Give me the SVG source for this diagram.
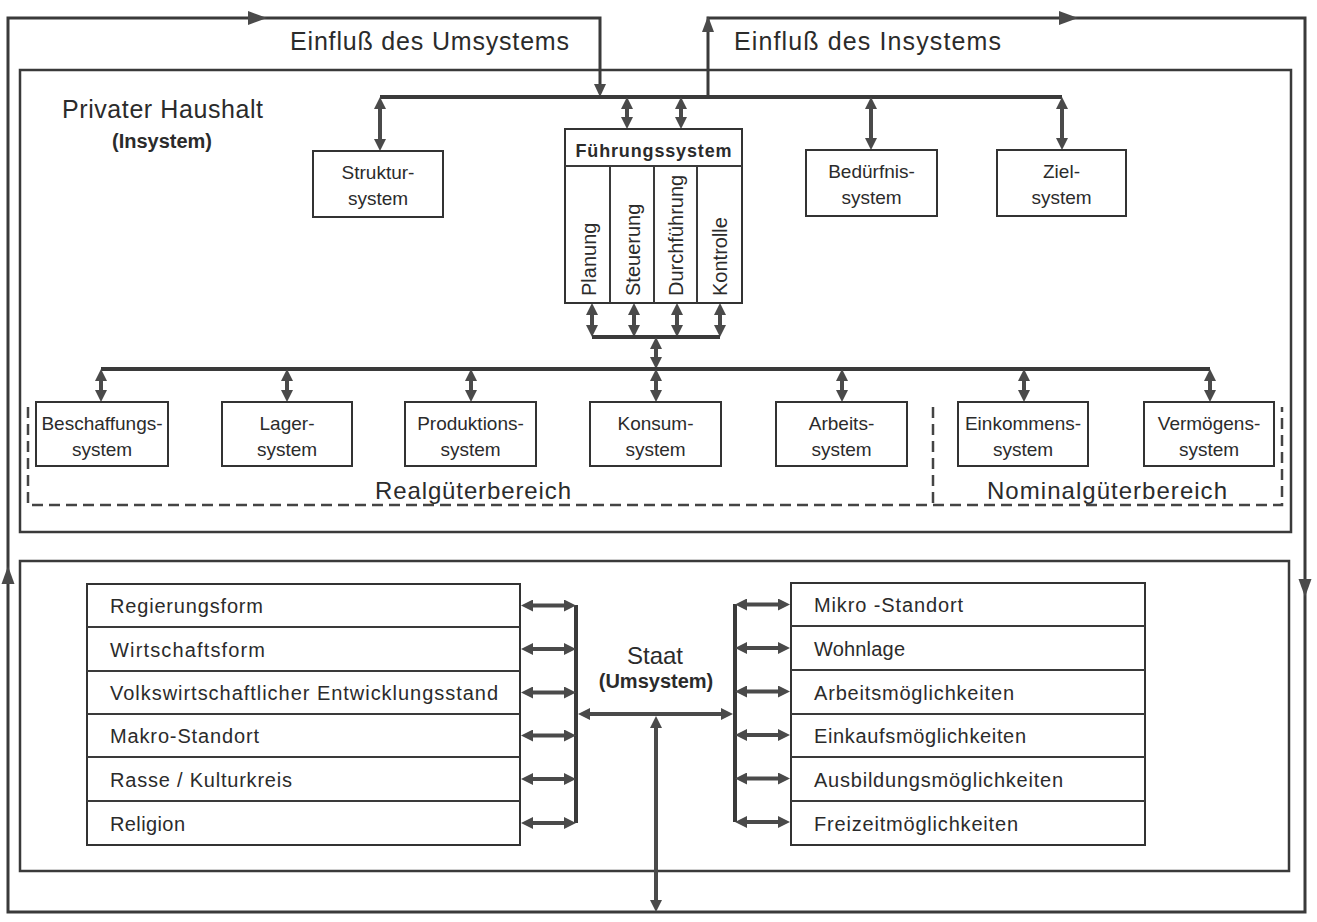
<svg xmlns="http://www.w3.org/2000/svg" width="1317" height="922" viewBox="0 0 1317 922">
<defs>
<style>
.ln{fill:none;stroke:#3a3a3a;stroke-width:3}
.bus{fill:none;stroke:#3a3a3a;stroke-width:4}
.ar{fill:none;stroke:#4a4a4a;stroke-width:4;marker-start:url(#ah);marker-end:url(#ah)}
.box{fill:#fff;stroke:#333;stroke-width:2}
.frame{fill:none;stroke:#3a3a3a;stroke-width:2.5}
.dash{fill:none;stroke:#444;stroke-width:2.5;stroke-dasharray:11 6}
.ah{fill:#4a4a4a}
text{font-family:"Liberation Sans",Arial,sans-serif;fill:#2b2b2b}
.lbl{font-size:19px;text-anchor:middle}
.big{font-size:25px}
.mid{font-size:24px;text-anchor:middle}
.sub{font-size:20px;font-weight:bold;text-anchor:middle}
.list{font-size:20px}
.vt{font-size:20px}
.hd{font-size:18px;font-weight:bold;text-anchor:middle}
</style>
<marker id="ah" viewBox="0 0 12 12" refX="4" refY="6" markerWidth="12" markerHeight="12" markerUnits="userSpaceOnUse" orient="auto-start-reverse"><path d="M0,0 L12,6 L0,12 z" fill="#4a4a4a"/></marker>
</defs>
<rect width="1317" height="922" fill="#fff"/>

<!-- containers -->
<g id="privater-haushalt">
<rect class="frame" x="20" y="70" width="1271" height="462"/>
<text class="big" x="62" y="118" textLength="201">Privater Haushalt</text>
<text class="sub" x="162" y="148">(Insystem)</text>
</g>
<g id="staat">
<rect class="frame" x="20" y="561" width="1269" height="310"/>
<text class="mid" x="655" y="664">Staat</text>
<text class="sub" x="656" y="688">(Umsystem)</text>
</g>

<g id="bereiche">
<path class="dash" d="M28,407 V505 H1282 V407 M933,407 V505"/>
<text class="mid" x="473" y="499" textLength="196">Realgüterbereich</text>
<text class="mid" x="1107" y="499" textLength="240">Nominalgüterbereich</text>
</g>

<!-- connectors -->
<g id="connectors">
<path class="ln" d="M708,97 V18 H1305 V912 H8 V18 H600 V87"/>
<path class="ah" d="M594,84 L600,97 L606,84 z"/>
<path class="ah" d="M702,32 L708,16 L714,32 z"/>
<path class="ah" d="M248,11 L267,18 L248,25 z"/>
<path class="ah" d="M1059,11 L1078,18 L1059,25 z"/>
<path class="ah" d="M1.5,584 L8,566 L14.5,584 z"/>
<path class="ah" d="M1298.5,579 L1305,597 L1311.5,579 z"/>
<!-- top bus -->
<path class="bus" d="M380,97 H1062"/>
<line class="ar" x1="380" y1="105" x2="380" y2="143"/>
<line class="ar" x1="627" y1="105" x2="627" y2="121"/>
<line class="ar" x1="681" y1="105" x2="681" y2="121"/>
<line class="ar" x1="871" y1="105" x2="871" y2="142"/>
<line class="ar" x1="1062" y1="105" x2="1062" y2="142"/>
<!-- under Führungssystem -->
<line class="ar" x1="592" y1="311" x2="592" y2="329"/>
<line class="ar" x1="634" y1="311" x2="634" y2="329"/>
<line class="ar" x1="677" y1="311" x2="677" y2="329"/>
<line class="ar" x1="720" y1="311" x2="720" y2="329"/>
<path class="bus" d="M592,337 H720"/>
<line class="ar" x1="656" y1="345" x2="656" y2="361"/>
<!-- main bus -->
<path class="bus" d="M101,369 H1210"/>
<line class="ar" x1="101" y1="377" x2="101" y2="394"/>
<line class="ar" x1="287" y1="377" x2="287" y2="394"/>
<line class="ar" x1="471" y1="377" x2="471" y2="394"/>
<line class="ar" x1="656" y1="377" x2="656" y2="394"/>
<line class="ar" x1="842" y1="377" x2="842" y2="394"/>
<line class="ar" x1="1024" y1="377" x2="1024" y2="394"/>
<line class="ar" x1="1210" y1="377" x2="1210" y2="394"/>
<!-- Staat -->
<path class="bus" d="M576,605 V823 M735,604 V822"/>
<line class="ar" x1="529" y1="605.5" x2="568" y2="605.5"/>
<line class="ar" x1="529" y1="649" x2="568" y2="649"/>
<line class="ar" x1="529" y1="692.5" x2="568" y2="692.5"/>
<line class="ar" x1="529" y1="735.5" x2="568" y2="735.5"/>
<line class="ar" x1="529" y1="779" x2="568" y2="779"/>
<line class="ar" x1="529" y1="823" x2="568" y2="823"/>
<line class="ar" x1="743" y1="604.5" x2="782" y2="604.5"/>
<line class="ar" x1="743" y1="648" x2="782" y2="648"/>
<line class="ar" x1="743" y1="691.5" x2="782" y2="691.5"/>
<line class="ar" x1="743" y1="735" x2="782" y2="735"/>
<line class="ar" x1="743" y1="778.5" x2="782" y2="778.5"/>
<line class="ar" x1="743" y1="822" x2="782" y2="822"/>
<line class="ar" x1="586" y1="714" x2="725" y2="714"/>
<line class="ar" x1="656" y1="724" x2="656" y2="904"/>
</g>

<text class="big" x="290" y="50" textLength="279">Einfluß des Umsystems</text>
<text class="big" x="734" y="50" textLength="267">Einfluß des Insystems</text>

<!-- upper nodes -->
<g id="struktursystem">
<rect class="box" x="313" y="151" width="130" height="66"/>
<text class="lbl" x="378" y="179">Struktur-</text>
<text class="lbl" x="378" y="205">system</text>
</g>
<g id="fuehrungssystem">
<rect class="box" x="565" y="129" width="177" height="174"/>
<path class="ln" style="stroke-width:2" d="M565,166 H742 M610,166 V303 M654,166 V303 M697,166 V303"/>
<text class="hd" x="653.5" y="157" textLength="156">Führungssystem</text>
<text class="vt" transform="translate(596,296) rotate(-90)">Planung</text>
<text class="vt" transform="translate(640,296) rotate(-90)">Steuerung</text>
<text class="vt" transform="translate(683,296) rotate(-90)">Durchführung</text>
<text class="vt" transform="translate(727,296) rotate(-90)">Kontrolle</text>
</g>
<g id="beduerfnissystem">
<rect class="box" x="806" y="150" width="131" height="66"/>
<text class="lbl" x="871.5" y="178">Bedürfnis-</text>
<text class="lbl" x="871.5" y="204">system</text>
</g>
<g id="zielsystem">
<rect class="box" x="997" y="150" width="129" height="66"/>
<text class="lbl" x="1061.5" y="178">Ziel-</text>
<text class="lbl" x="1061.5" y="204">system</text>
</g>

<!-- lower nodes -->
<g id="beschaffungssystem">
<rect class="box" x="36" y="402" width="132" height="64"/>
<text class="lbl" x="102" y="430">Beschaffungs-</text>
<text class="lbl" x="102" y="456">system</text>
</g>
<g id="lagersystem">
<rect class="box" x="222" y="402" width="130" height="64"/>
<text class="lbl" x="287" y="430">Lager-</text>
<text class="lbl" x="287" y="456">system</text>
</g>
<g id="produktionssystem">
<rect class="box" x="405" y="402" width="131" height="64"/>
<text class="lbl" x="470.5" y="430">Produktions-</text>
<text class="lbl" x="470.5" y="456">system</text>
</g>
<g id="konsumsystem">
<rect class="box" x="590" y="402" width="131" height="64"/>
<text class="lbl" x="655.5" y="430">Konsum-</text>
<text class="lbl" x="655.5" y="456">system</text>
</g>
<g id="arbeitssystem">
<rect class="box" x="776" y="402" width="131" height="64"/>
<text class="lbl" x="841.5" y="430">Arbeits-</text>
<text class="lbl" x="841.5" y="456">system</text>
</g>
<g id="einkommenssystem">
<rect class="box" x="958" y="402" width="130" height="64"/>
<text class="lbl" x="1023" y="430">Einkommens-</text>
<text class="lbl" x="1023" y="456">system</text>
</g>
<g id="vermoegenssystem">
<rect class="box" x="1144" y="402" width="130" height="64"/>
<text class="lbl" x="1209" y="430">Vermögens-</text>
<text class="lbl" x="1209" y="456">system</text>
</g>

<!-- Staat lists -->
<g id="makro-faktoren">
<rect class="box" x="87" y="584" width="433" height="261"/>
<path class="ln" style="stroke-width:2" d="M87,627 H520 M87,671 H520 M87,714 H520 M87,757 H520 M87,801 H520"/>
<text class="list" x="110" y="613" textLength="153">Regierungsform</text>
<text class="list" x="110" y="657" textLength="155">Wirtschaftsform</text>
<text class="list" x="110" y="700" textLength="388">Volkswirtschaftlicher Entwicklungsstand</text>
<text class="list" x="110" y="743" textLength="149">Makro-Standort</text>
<text class="list" x="110" y="787" textLength="182">Rasse / Kulturkreis</text>
<text class="list" x="110" y="831" textLength="75">Religion</text>
</g>
<g id="mikro-faktoren">
<rect class="box" x="791" y="583" width="354" height="262"/>
<path class="ln" style="stroke-width:2" d="M791,626 H1145 M791,670 H1145 M791,714 H1145 M791,757 H1145 M791,801 H1145"/>
<text class="list" x="814" y="612" textLength="149">Mikro -Standort</text>
<text class="list" x="814" y="656" textLength="91">Wohnlage</text>
<text class="list" x="814" y="700" textLength="200">Arbeitsmöglichkeiten</text>
<text class="list" x="814" y="743" textLength="212">Einkaufsmöglichkeiten</text>
<text class="list" x="814" y="787" textLength="249">Ausbildungsmöglichkeiten</text>
<text class="list" x="814" y="831" textLength="204">Freizeitmöglichkeiten</text>
</g>
</svg>
